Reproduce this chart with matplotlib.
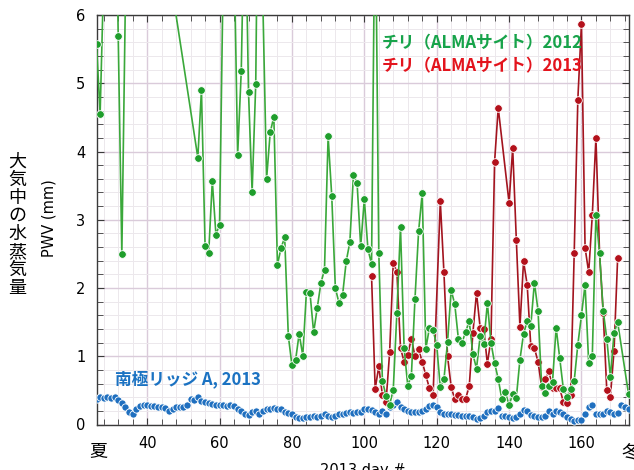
import matplotlib
matplotlib.use("Agg")
import matplotlib.pyplot as plt
from matplotlib.ticker import MultipleLocator

# ---- data ----
# Chile (ALMA site) 2012
chile12_days = list(range(26, 36)) + list(range(54, 171)) + [173]
chile12_pwv = [5.57, 4.55, 6.6, 8.0, 9.0, 9.0, 5.69, 2.50, 6.3, 10.5,
               3.91, 4.90, 2.62, 2.51, 3.57, 2.78,
               2.93, 6.6, 10.0, 10.0, 7.0, 3.95, 5.18, 8.0, 4.87, 3.41,
               4.99, 10.0, 6.1, 3.60, 4.28, 4.51, 2.34, 2.59, 2.74, 1.30,
               0.87, 0.94, 1.33, 1.01, 1.94, 1.92, 1.35, 1.71, 2.07, 2.27,
               4.22, 3.35, 2.00, 1.78, 1.90, 2.39, 2.67, 3.66, 3.54, 2.61,
               3.30, 2.57, 2.35, 8.0, 2.52, 0.64, 0.42, 0.29, 0.51, 1.64,
               2.89, 1.12, 0.57, 0.71, 1.84, 2.83, 3.39, 1.11, 1.42, 1.39,
               1.16, 0.55, 0.66, 1.21, 1.97, 1.76, 1.25, 1.20, 1.36, 1.51,
               1.03, 0.82, 1.29, 1.18, 1.78, 1.20, 0.90, 0.67, 0.37, 0.47,
               0.28, 0.45, 0.39, 0.95, 1.33, 1.51, 1.45, 2.08, 1.67, 0.57,
               0.46, 0.56, 0.62, 1.42, 0.97, 0.52, 0.41, 0.52, 0.64, 1.17,
               1.60, 2.05, 0.90, 1.01, 3.07, 2.51, 1.67, 1.26, 0.69, 1.34, 1.50,
               0.45]

# Chile (ALMA site) 2013
chile13_days = list(range(102, 120)) + list(range(121, 138)) + list(range(140, 171))
chile13_pwv = [2.18, 0.52, 0.85, 0.43, 0.33, 1.06, 2.37, 2.24,
               1.12, 0.92, 1.02, 1.26, 1.00, 1.10, 0.92, 0.72, 0.53, 0.43,
               3.27, 2.23, 1.00, 0.55, 0.37, 0.43, 0.38, 0.38, 0.56,
               1.34, 1.93, 1.42, 1.40, 0.89, 1.25, 3.85, 4.64,
               3.25, 4.05, 2.71, 1.43, 2.39, 2.05, 1.15, 1.12, 0.92, 0.55,
               0.66, 0.79, 0.53, 0.53, 0.53, 0.33, 0.31, 0.43, 2.52, 4.76,
               5.87, 2.59, 2.23, 3.07, 4.20, 2.51, 1.64, 0.50, 0.41, 1.08, 2.44]

# Antarctic Ridge A 2013
ridge_days = list(range(26, 174))
ridge_pwv = [0.38, 0.40, 0.39, 0.40, 0.39, 0.40, 0.36, 0.32, 0.25, 0.18,
             0.16, 0.22, 0.27, 0.29, 0.28, 0.27, 0.27, 0.26, 0.26, 0.24,
             0.20, 0.23, 0.26, 0.26, 0.26, 0.29, 0.38, 0.36, 0.41, 0.35,
             0.33, 0.32, 0.30, 0.29, 0.28, 0.28, 0.27, 0.29, 0.27, 0.23,
             0.20, 0.16, 0.14, 0.18, 0.20, 0.16, 0.20, 0.22, 0.23, 0.24,
             0.23, 0.22, 0.19, 0.17, 0.15, 0.11, 0.10, 0.10, 0.11, 0.11,
             0.12, 0.11, 0.12, 0.15, 0.12, 0.11, 0.13, 0.15, 0.16, 0.17,
             0.18, 0.17, 0.18, 0.19, 0.22, 0.23, 0.21, 0.18, 0.16, 0.20,
             0.15, 0.25, 0.29, 0.33, 0.25, 0.22, 0.20, 0.19, 0.18, 0.19,
             0.20, 0.22, 0.27, 0.28, 0.25, 0.19, 0.16, 0.15, 0.15, 0.14,
             0.14, 0.13, 0.13, 0.12, 0.11, 0.08, 0.10, 0.13, 0.18, 0.20,
             0.20, 0.24, 0.13, 0.12, 0.11, 0.09, 0.11, 0.16, 0.21, 0.20,
             0.14, 0.12, 0.11, 0.11, 0.13, 0.20, 0.15, 0.20, 0.18, 0.15,
             0.11, 0.08, 0.05, 0.06, 0.06, 0.15, 0.25, 0.29, 0.16, 0.16,
             0.16, 0.20, 0.19, 0.16, 0.17, 0.29, 0.26, 0.22]

x_ticks = [40, 60, 80, 100, 120, 140, 160]
y_ticks = [0, 1, 2, 3, 4, 5, 6]

JP = ["Noto Sans CJK JP", "DejaVu Sans"]

fig = plt.figure(figsize=(6.34, 4.70), dpi=100)
W, H = 634, 470
ax = fig.add_axes([96.5 / W, 1 - 424.5 / H, (628.5 - 96.5) / W, (424.5 - 15.0) / H])

# series
ax.plot(ridge_days, ridge_pwv, ls="none", marker="o", ms=5.2,
        mfc="#1f6fbf", mec="white", mew=0.6, zorder=3)
ax.plot(chile13_days, chile13_pwv, color="#a3141f", lw=1.2, marker="o", ms=5.5,
        mfc="#b3111b", mec="white", mew=0.6, zorder=4)
ax.plot(chile12_days, chile12_pwv, color="#3aa83a", lw=1.2, marker="o", ms=5.5,
        mfc="#1f9e2c", mec="white", mew=0.6, zorder=5)

ax.set_xlim(26, 173)
ax.set_ylim(0, 6)
ax.set_xticks(x_ticks)
ax.set_yticks(y_ticks)
ax.xaxis.set_minor_locator(MultipleLocator(4))
ax.yaxis.set_minor_locator(MultipleLocator(0.2))

ax.set_axisbelow(True)
ax.grid(which="major", color="#dacbda", lw=1.0)
ax.grid(which="minor", color="#ece8ec", lw=0.7)
for s in ax.spines.values():
    s.set_color("#3a3a3a")
    s.set_linewidth(1.0)
ax.tick_params(which="both", direction="in", top=True, right=True,
               color="#3a3a3a", labelsize=10.5)
ax.tick_params(which="major", length=5, pad=8)
ax.tick_params(which="minor", length=4)

ax.set_xlabel("2013 day #", fontsize=10.5, labelpad=9)

# labels
fig.text(48.5 / W, 1 - 218.5 / H, "PWV (mm)", rotation=90, fontsize=10.5,
         ha="center", va="center")
for i, ch in enumerate("大気中の水蒸気量"):
    fig.text(17.3 / W, 1 - (161.7 + i * 18.05) / H, ch, family=JP, fontsize=13,
             ha="center", va="center")
fig.text(98.3 / W, 1 - 451.5 / H, "夏", family=JP, fontsize=13, ha="center", va="center")
fig.text(621.0 / W, 1 - 452.0 / H, "冬", family=JP, fontsize=13, ha="left", va="center")

fig.text(381.5 / W, 1 - 43.5 / H, "チリ（ALMAサイト）2012", family=JP, fontsize=12,
         fontweight="bold", color="#17a34a", ha="left", va="center")
fig.text(381.5 / W, 1 - 66.5 / H, "チリ（ALMAサイト）2013", family=JP, fontsize=12,
         fontweight="bold", color="#e3141d", ha="left", va="center")
fig.text(115 / W, 1 - 379.5 / H, "南極リッジ A, 2013", family=JP, fontsize=12,
         fontweight="bold", color="#1b72c2", ha="left", va="center")

fig.savefig("out.png", dpi=100)
